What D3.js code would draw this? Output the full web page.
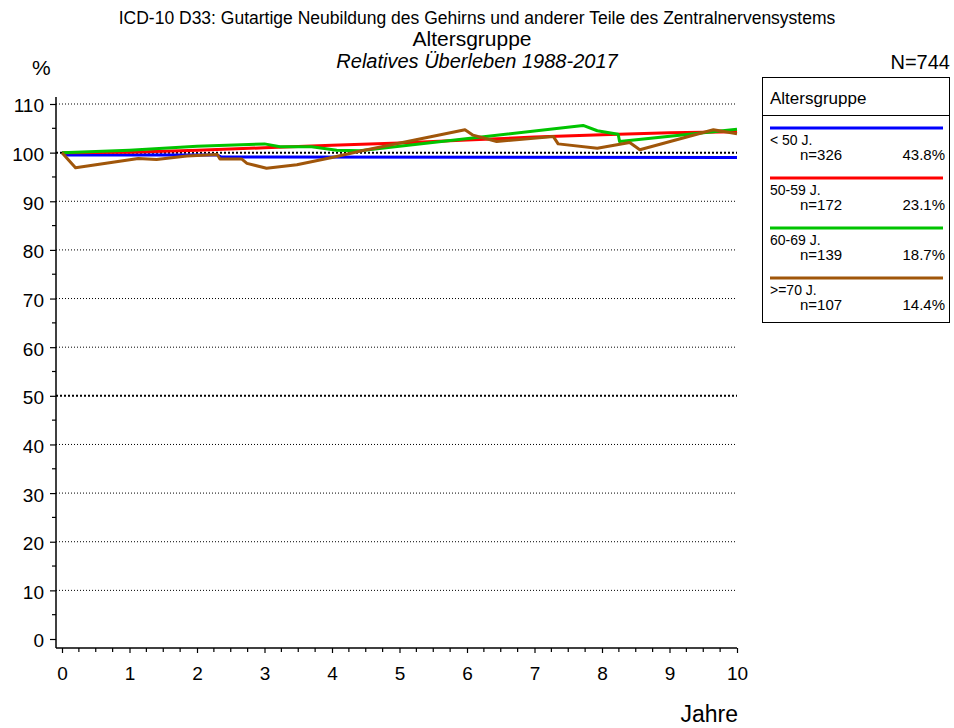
<!DOCTYPE html>
<html>
<head>
<meta charset="utf-8">
<script src="https://cdn.jsdelivr.net/npm/d3@7"></script>
<style>
  body { margin: 0; background: #fff; }
  svg { font-family: "Liberation Sans", Arial, sans-serif; }
</style>
</head>
<body>
<svg width="954" height="728"></svg>
<script>
// series data (years, relative survival %)
const blueYears = [0, 0.05, 2.3, 2.36, 10];
const blueVals = [100, 99.5, 99.5, 99.1, 99];

const redYears = [0, 1, 2, 3, 4, 5, 6, 7, 8, 9, 10];
const redVals = [100, 100.1, 100.5, 101, 101.5, 102, 102.6, 103.2, 103.7, 104.1, 104.3];

const greenYears = [0, 1, 2, 3, 3.23, 3.7, 4.07, 4.41, 7.72, 7.93, 8.24, 8.26, 10];
const greenVals = [100, 100.5, 101.3, 101.8, 101.2, 101.2, 100.5, 100.4, 105.6, 104.5, 103.8, 102.3, 104.8];

const brownYears = [0, 0.2, 1.13, 1.4, 1.85, 2.3, 2.34, 2.66, 2.74, 3.03, 3.48, 4.0, 4.41, 5.97, 6.09, 6.44, 7.28, 7.35, 7.93, 8.41, 8.56, 9.65, 10];
const brownVals = [100, 96.9, 98.8, 98.6, 99.3, 99.6, 98.7, 98.7, 97.8, 96.8, 97.5, 99.0, 100.3, 104.7, 103.6, 102.3, 103.3, 101.8, 100.9, 102.1, 100.6, 104.7, 103.9];

const groupLabels = ["< 50 J.", "50-59 J.", "60-69 J.", ">=70 J."];
const groupN = ["n=326", "n=172", "n=139", "n=107"];
const groupPct = ["43.8%", "23.1%", "18.7%", "14.4%"];
const groupColors = ["#0000ff", "#ff0000", "#00c400", "#a0560a"];

const xTicks = [0, 1, 2, 3, 4, 5, 6, 7, 8, 9, 10];
const yTicks = [0, 10, 20, 30, 40, 50, 60, 70, 80, 90, 100, 110];

const series = [
  { years: blueYears, vals: blueVals },
  { years: redYears, vals: redVals },
  { years: greenYears, vals: greenVals },
  { years: brownYears, vals: brownVals },
];

const svg = d3.select("svg");
const x = d3.scaleLinear().domain([0, 10]).range([62, 737]);
const y = d3.scaleLinear().domain([0, 110]).range([639, 104]);
const axisX = 56, axisY = 648;

// titles
svg.append("text").attr("x", 477).attr("y", 24).attr("text-anchor", "middle")
  .attr("font-size", 17.5).text("ICD-10 D33: Gutartige Neubildung des Gehirns und anderer Teile des Zentralnervensystems");
svg.append("text").attr("x", 472).attr("y", 46).attr("text-anchor", "middle")
  .attr("font-size", 21).text("Altersgruppe");
svg.append("text").attr("x", 477).attr("y", 68).attr("text-anchor", "middle")
  .attr("font-size", 20).attr("font-style", "italic").text("Relatives Überleben 1988-2017");
svg.append("text").attr("x", 32).attr("y", 75).attr("font-size", 21).text("%");
svg.append("text").attr("x", 950).attr("y", 69).attr("text-anchor", "end")
  .attr("font-size", 20).text("N=744");

// grid lines
svg.append("g").selectAll("line").data(yTicks.filter(d => d > 0)).join("line")
  .attr("x1", axisX).attr("x2", 737)
  .attr("y1", d => y(d)).attr("y2", d => y(d))
  .attr("stroke", "#000")
  .attr("stroke-width", d => (d === 50 || d === 100) ? 2 : 1)
  .attr("stroke-dasharray", d => (d === 50 || d === 100) ? "2,2" : "1,2");

// y axis
const yAxis = svg.append("g").attr("transform", `translate(${axisX},0)`);
yAxis.call(d3.axisLeft(y).tickValues(yTicks).tickSize(6).tickPadding(6).tickFormat(d3.format("d")));
yAxis.select(".domain").attr("d", `M0,97V${axisY}`).attr("stroke-width", 1.5);
yAxis.selectAll("text").attr("font-size", 19).attr("dy", "0.42em")
  .attr("font-family", "Liberation Sans, Arial, sans-serif");
yAxis.selectAll(".tick line").attr("stroke-width", 1.2);
yAxis.append("g").selectAll("line").data(d3.range(5, 110, 10)).join("line")
  .attr("x1", -4).attr("x2", 0).attr("y1", d => y(d)).attr("y2", d => y(d))
  .attr("stroke", "#000").attr("stroke-width", 1.2);

// x axis
const xAxis = svg.append("g").attr("transform", `translate(0,${axisY})`);
xAxis.call(d3.axisBottom(x).tickValues(xTicks).tickSize(5).tickPadding(14).tickFormat(d3.format("d")));
xAxis.select(".domain").attr("d", `M${axisX},0H737`).attr("stroke-width", 1.5);
xAxis.selectAll("text").attr("font-size", 19).attr("font-family", "Liberation Sans, Arial, sans-serif");
xAxis.selectAll(".tick line").attr("stroke-width", 1.2);
xAxis.append("g").selectAll("line").data(d3.range(0, 10, 0.25).filter(d => d % 1 !== 0)).join("line")
  .attr("x1", d => x(d)).attr("x2", d => x(d)).attr("y1", 0).attr("y2", 4)
  .attr("stroke", "#000").attr("stroke-width", 1.2);
svg.append("text").attr("x", 738).attr("y", 722).attr("text-anchor", "end")
  .attr("font-size", 23).text("Jahre");

// lines
const line = d3.line().x(d => x(d[0])).y(d => y(d[1]));
series.forEach((s, i) => {
  svg.append("path")
    .datum(s.years.map((yr, k) => [yr, s.vals[k]]))
    .attr("d", line)
    .attr("fill", "none")
    .attr("stroke", groupColors[i])
    .attr("stroke-width", 3)
    .attr("stroke-linejoin", "round");
});

// legend
const lg = svg.append("g");
lg.append("rect").attr("x", 762.5).attr("y", 77.5).attr("width", 187).attr("height", 245)
  .attr("fill", "#fff").attr("stroke", "#000").attr("stroke-width", 1);
lg.append("line").attr("x1", 762.5).attr("x2", 949.5).attr("y1", 115.5).attr("y2", 115.5)
  .attr("stroke", "#000");
lg.append("text").attr("x", 770).attr("y", 104).attr("font-size", 17).text("Altersgruppe");
groupLabels.forEach((lab, i) => {
  const y0 = 128 + i * 50;
  lg.append("line").attr("x1", 770).attr("x2", 943).attr("y1", y0).attr("y2", y0)
    .attr("stroke", groupColors[i]).attr("stroke-width", 3);
  lg.append("text").attr("x", 770).attr("y", y0 + 17).attr("font-size", 14).text(lab);
  lg.append("text").attr("x", 800).attr("y", y0 + 32).attr("font-size", 15).text(groupN[i]);
  lg.append("text").attr("x", 945).attr("y", y0 + 32).attr("text-anchor", "end")
    .attr("font-size", 15).text(groupPct[i]);
});
</script>
</body>
</html>
